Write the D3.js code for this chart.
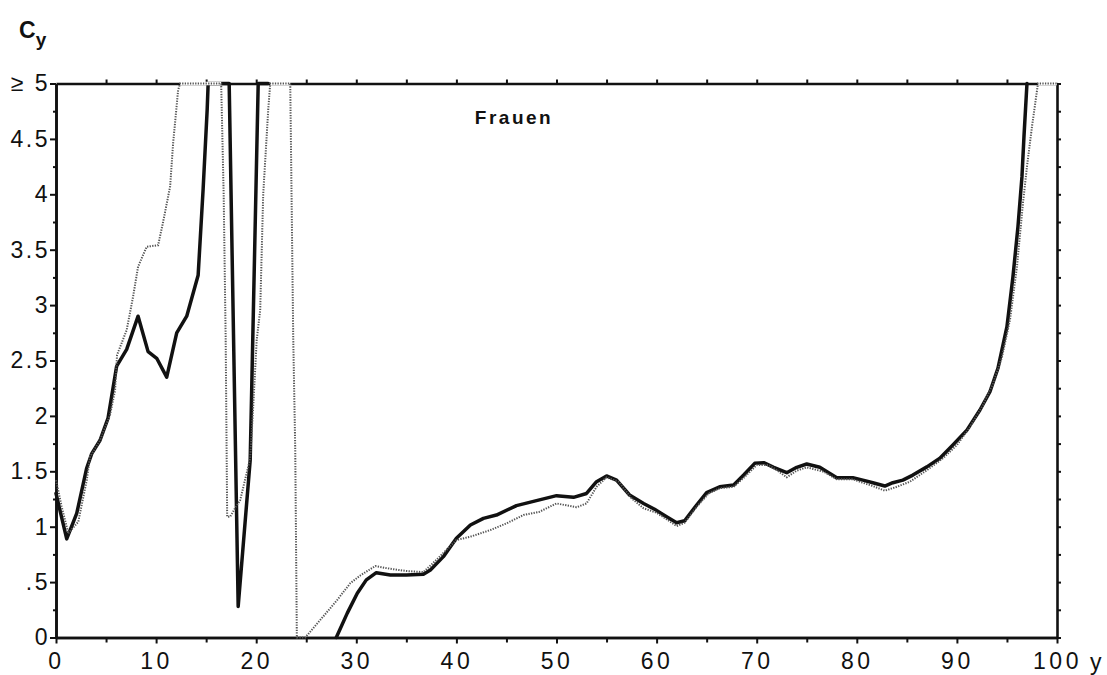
<!DOCTYPE html>
<html>
<head>
<meta charset="utf-8">
<script src="https://cdn.jsdelivr.net/npm/d3@7"></script>
<style>
  body { margin: 0; background: #fff; }
  svg { display: block; }
  text { font-family: "Liberation Sans", Arial, sans-serif; fill: #111; }
</style>
</head>
<body>
<svg id="chart" width="1107" height="675"></svg>
<script>
// ---- data ----
const xTicksMajor = [0, 10, 20, 30, 40, 50, 60, 70, 80, 90, 100];
const yTickLabels = ["0", ".5", "1", "1.5", "2", "2.5", "3", "3.5", "4", "4.5", "≥ 5"];
const seriesLabel = "Frauen";

// solid curve: [age y, C_y]; null marks a gap
const solidAges = [0, 1.07, 2.07, 3.07, 3.57, 4.4, 5.2, 6.06, 7.06, 8.2, 9.2, 10.06, 11.06, 12.06, 13.06, 14.2, 14.7, 15.1, 15.2, 16.0, 17.3, 18.2, 19.4, 20.2, 21.2,
  null,
  28.0, 29.1, 30.1, 31.0, 32.0, 33.4, 35.0, 36.7, 37.4, 38.7, 40.0, 41.4, 42.7, 44.0, 46.0, 48.0, 50.0, 51.7, 53.0, 54.0, 55.0, 56.0, 57.3, 58.7, 59.8,
  61.0, 62.0, 62.8, 64.0, 65.0, 66.3, 67.7, 68.7, 69.8, 70.7, 71.7, 73.0, 74.0, 75.0, 76.3, 78.0, 79.6, 80.6, 81.6, 82.8, 83.6, 84.6, 85.6, 87.0, 88.3,
  89.6, 91.0, 92.3, 93.3, 94.1, 95.0, 95.6, 96.1, 96.5, 96.7, 97.0];
const solidValues = [1.3, 0.89, 1.12, 1.53, 1.66, 1.78, 1.98, 2.45, 2.6, 2.9, 2.58, 2.52, 2.35, 2.75, 2.9, 3.27, 4.05, 4.76, 5, 5, 5, 0.28, 1.6, 5, 5,
  null,
  0, 0.22, 0.40, 0.52, 0.585, 0.565, 0.565, 0.57, 0.61, 0.73, 0.895, 1.015, 1.075, 1.105, 1.19, 1.235, 1.28, 1.265, 1.30, 1.406, 1.458, 1.42, 1.286, 1.21, 1.157,
  1.09, 1.036, 1.054, 1.196, 1.307, 1.36, 1.376, 1.466, 1.572, 1.578, 1.536, 1.487, 1.536, 1.566, 1.536, 1.442, 1.442, 1.42, 1.397, 1.367, 1.397, 1.42, 1.466, 1.54, 1.617,
  1.737, 1.872, 2.053, 2.218, 2.43, 2.805, 3.256, 3.708, 4.159, 4.52, 5];

// dotted curve
const dottedAges = [0, 0.57, 1.23, 2.23, 3.07, 3.4, 4.4, 5.4, 5.9, 6.1, 7.06, 7.7, 8.2, 9.06, 10.2, 10.7, 11.4, 11.7, 12.2, 12.4, 14.0, 16.5,
  16.75, 16.95, 17.1, 17.4, 17.9, 18.4, 19.2, 19.4, 19.7, 20.05, 20.4, 20.7, 21.2, 21.4, 23.4, 23.7, 23.9, 24.06, 24.9,
  26.7, 28.1, 29.4, 30.4, 31.9, 33.4, 35.0, 36.7, 38.0, 40.0, 41.4, 43.4, 45.0, 46.7, 48.3, 50.0, 52.0, 53.0, 54.0, 55.0, 56.2, 57.5, 58.7, 60.0,
  61.0, 62.0, 62.8, 64.0, 65.2, 66.3, 67.7, 68.8, 70.0, 71.2, 72.0, 73.0, 74.0, 75.0, 76.7, 78.0, 79.6, 80.6, 81.6, 82.8, 84.0, 85.3, 87.0, 88.6,
  90.0, 91.3, 92.6, 93.6, 94.5, 95.3, 96.0, 96.6, 97.0, 97.5, 98.1, 100];
const dottedValues = [1.42, 1.18, 0.94, 1.045, 1.42, 1.63, 1.78, 2.01, 2.23, 2.55, 2.775, 3.076, 3.347, 3.527, 3.54, 3.75, 4.07, 4.46, 4.94, 5, 5, 5,
  4.0, 2.7, 1.09, 1.09, 1.17, 1.24, 1.54, 1.62, 2.08, 2.685, 2.955, 4.0, 4.76, 5, 5, 2.7, 1.7, 0, 0,
  0.19, 0.34, 0.49, 0.56, 0.645, 0.62, 0.60, 0.59, 0.70, 0.88, 0.91, 0.97, 1.03, 1.105, 1.135, 1.21, 1.175, 1.21, 1.36, 1.446, 1.406, 1.256, 1.166, 1.126,
  1.067, 1.006, 1.036, 1.18, 1.30, 1.347, 1.36, 1.45, 1.557, 1.557, 1.51, 1.446, 1.506, 1.536, 1.496, 1.428, 1.428, 1.397, 1.367, 1.325, 1.36, 1.406, 1.51, 1.617,
  1.737, 1.9, 2.098, 2.29, 2.53, 2.866, 3.347, 3.92, 4.25, 4.61, 5, 5];

// ---- drawing ----
const svg = d3.select("#chart");
const x = d3.scaleLinear().domain([0, 100]).range([56, 1057]);
const y = d3.scaleLinear().domain([0, 5]).range([637.5, 83.5]);

const solid = solidAges.map((a, i) => [a, solidValues[i]]);
const dotted = dottedAges.map((a, i) => [a, dottedValues[i]]);

const line = d3.line()
  .defined(d => d[0] !== null && d[1] !== null)
  .x(d => x(d[0])).y(d => y(d[1]));

// axes
function styleAxis(g) {
  g.select(".domain").attr("stroke", "#111").attr("stroke-width", 2.6);
  g.selectAll(".tick line").attr("stroke", "#111").attr("stroke-width", 2);
}
const fsz = "23px";

// minor ticks left
svg.append("g").attr("transform", `translate(${x(0)},0)`)
  .call(d3.axisLeft(y).tickValues(d3.range(0.25, 5, 0.5)).tickSize(3).tickSizeOuter(0).tickFormat(""))
  .call(styleAxis);
// major left with labels
svg.append("g").attr("transform", `translate(${x(0)},0)`)
  .call(d3.axisLeft(y).tickValues(d3.range(0, 5.01, 0.5)).tickSize(6).tickSizeOuter(0).tickPadding(0)
    .tickFormat((d, i) => yTickLabels[i]))
  .call(styleAxis)
  .call(g => g.selectAll("text").style("font-size", fsz).attr("letter-spacing", "2.5px"));
// right
svg.append("g").attr("transform", `translate(${x(100)},0)`)
  .call(d3.axisRight(y).tickValues(d3.range(0, 5.01, 0.25)).tickSize(4).tickSizeOuter(0).tickFormat(""))
  .call(styleAxis);
// bottom minor
svg.append("g").attr("transform", `translate(0,${y(0)})`)
  .call(d3.axisBottom(x).tickValues(d3.range(5, 100, 10)).tickSize(5).tickSizeOuter(0).tickFormat(""))
  .call(styleAxis);
// bottom major
svg.append("g").attr("transform", `translate(0,${y(0)})`)
  .call(d3.axisBottom(x).tickValues(xTicksMajor).tickSize(6).tickSizeOuter(0).tickPadding(9).tickFormat(d3.format("d")))
  .call(styleAxis)
  .call(g => g.selectAll("text").style("font-size", fsz).attr("letter-spacing", "3.5px"));
// top
svg.append("g").attr("transform", `translate(0,${y(5)})`)
  .call(d3.axisTop(x).tickValues(d3.range(5, 100, 5)).tickSize(4).tickSizeOuter(0).tickFormat(""))
  .call(styleAxis);

// solid curve
svg.append("path").datum(solid)
  .attr("fill", "none").attr("stroke", "#111").attr("stroke-width", 3.5)
  .attr("stroke-linejoin", "round").attr("stroke-linecap", "round")
  .attr("d", line);

// white underlay where dotted curve runs along the top (pattern overwrote the frame)
const topLine = d3.line().defined(d => d[1] >= 5).x(d => x(d[0])).y(d => y(d[1]));
svg.append("path").datum(dotted)
  .attr("fill", "none").attr("stroke", "#fff").attr("stroke-width", 3.4)
  .attr("d", topLine);

// dotted curve
svg.append("path").datum(dotted)
  .attr("fill", "none").attr("stroke", "#555").attr("stroke-width", 2)
  .attr("stroke-dasharray", "1.3 1.3")
  .attr("d", line);

// axis titles and label
const cy = svg.append("text").attr("x", 19).attr("y", 38)
  .style("font-size", "23px").style("font-weight", "bold");
cy.append("tspan").text("C");
cy.append("tspan").attr("dy", 8).style("font-size", "19px").text("y");

svg.append("text").attr("x", 1090).attr("y", 670)
  .style("font-size", fsz).text("y");

svg.append("text").attr("x", 514).attr("y", 124).attr("text-anchor", "middle")
  .style("font-size", "19px").style("font-weight", "bold").attr("letter-spacing", "2.5px")
  .text(seriesLabel);
</script>
</body>
</html>
